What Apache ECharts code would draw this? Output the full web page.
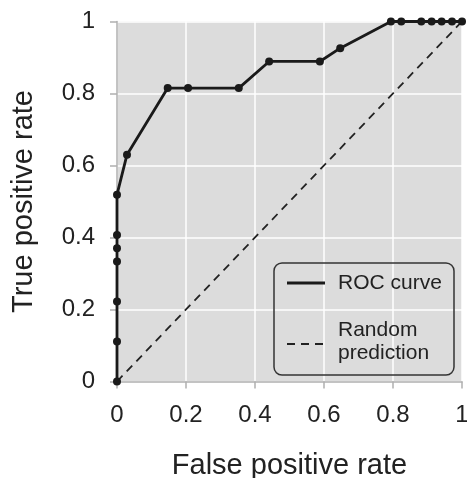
<!DOCTYPE html>
<html><head><meta charset="utf-8">
<script src="https://cdn.jsdelivr.net/npm/echarts@6/dist/echarts.min.js"></script>
<style>html,body{margin:0;padding:0;background:#fff}#c{width:467px;height:478px}</style>
</head><body><div id="c"></div>
<script>
// ROC curve data (false positive rate, true positive rate)
const fpr = [0, 0, 0, 0, 0, 0, 0, 0.029, 0.147, 0.206, 0.353, 0.441, 0.588, 0.647, 0.794, 0.824, 0.882, 0.912, 0.941, 0.971, 1];
const tpr = [0, 0.111, 0.222, 0.333, 0.370, 0.407, 0.519, 0.630, 0.815, 0.815, 0.815, 0.889, 0.889, 0.926, 1, 1, 1, 1, 1, 1, 1];
const randomX = [0, 1];
const randomY = [0, 1];
const ticks = [0, 0.2, 0.4, 0.6, 0.8, 1];

const FONT = "'Liberation Sans', Arial, sans-serif";
const chart = echarts.init(document.getElementById('c'), null, {renderer: 'canvas'});
const axisCommon = {
  type: 'value', min: 0, max: 1, interval: 0.2,
  axisLine: {show: true, lineStyle: {color: '#b0b0b0', width: 1.5}},
  axisTick: {show: true, length: 7, lineStyle: {color: '#b0b0b0', width: 1.5}},
  splitLine: {show: true, lineStyle: {color: '#ffffff', width: 1.5}},
  axisLabel: {color: '#222', fontSize: 24, fontFamily: FONT,
    formatter: v => { const t = ticks.find(x => Math.abs(x - v) < 1e-9); return t === undefined ? '' : String(t); }},
  nameLocation: 'middle',
  nameTextStyle: {color: '#222', fontSize: 29, fontFamily: FONT}
};
chart.setOption({
  animation: false,
  grid: {left: 117, right: 5, top: 21.5, bottom: 96.5, show: true, backgroundColor: '#dcdcdc', borderWidth: 0,
         containLabel: false, outerBoundsMode: 'none'},
  xAxis: Object.assign({}, axisCommon, {name: 'False positive rate', nameGap: 70,
    axisLabel: Object.assign({}, axisCommon.axisLabel, {margin: 22})}),
  yAxis: Object.assign({}, axisCommon, {name: 'True positive rate', nameGap: 79,
    axisLabel: Object.assign({}, axisCommon.axisLabel, {margin: 22})}),
  series: [
    {name: 'Random prediction', type: 'line', data: randomX.map((x, i) => [x, randomY[i]]),
     showSymbol: false, lineStyle: {color: '#222', width: 1.8, type: [8, 6]}, z: 2},
    {name: 'ROC curve', type: 'line', data: fpr.map((x, i) => [x, tpr[i]]),
     symbol: 'circle', symbolSize: 8, itemStyle: {color: '#1a1a1a'},
     lineStyle: {color: '#1a1a1a', width: 2.8}, z: 3, clip: false}
  ],
  graphic: [
    {type: 'rect', shape: {x: 274, y: 263, width: 180, height: 112, r: 8},
     style: {fill: 'transparent', stroke: '#333', lineWidth: 1.5}, z: 10},
    {type: 'line', shape: {x1: 287, y1: 283, x2: 325, y2: 283}, style: {stroke: '#1a1a1a', lineWidth: 2.8}, z: 10},
    {type: 'text', x: 338, y: 283, style: {text: 'ROC curve', font: '21px ' + FONT, fill: '#222', verticalAlign: 'middle'}, z: 10},
    {type: 'line', shape: {x1: 287, y1: 344, x2: 327, y2: 344}, style: {stroke: '#222', lineWidth: 1.8, lineDash: [8, 6]}, z: 10},
    {type: 'text', x: 338, y: 342, style: {text: 'Random\nprediction', font: '21px ' + FONT, fill: '#222', verticalAlign: 'middle', lineHeight: 23}, z: 10}
  ]
});
</script></body></html>
